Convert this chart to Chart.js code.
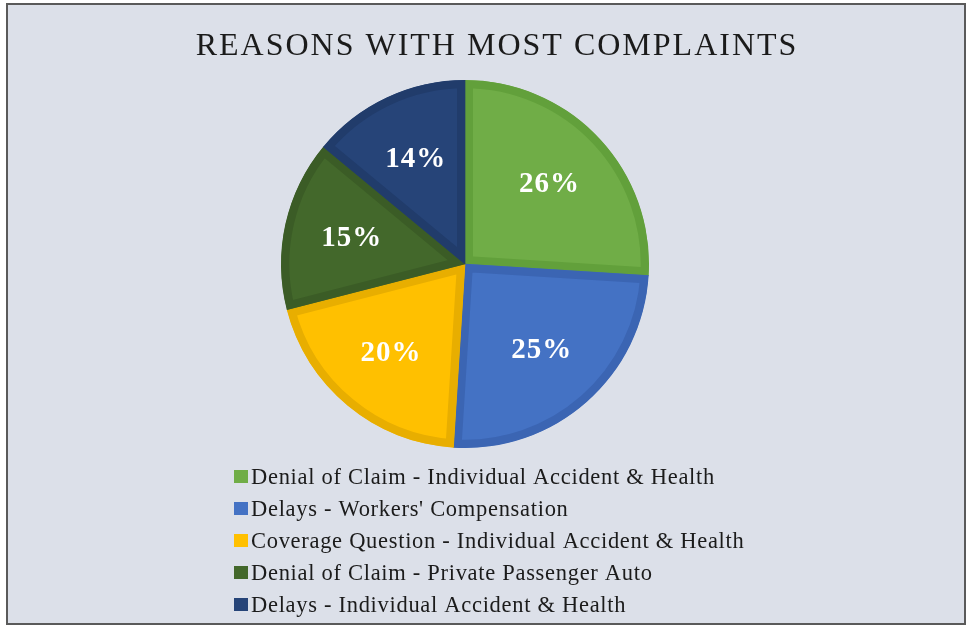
<!DOCTYPE html>
<html>
<head>
<meta charset="utf-8">
<script src="https://cdn.jsdelivr.net/npm/chart.js@4.4.0/dist/chart.umd.min.js"></script>
<style>
html,body{margin:0;padding:0;background:#ffffff;}
#wrap{position:absolute;left:0;top:0;width:967px;height:625px;}
canvas{display:block;}
</style>
</head>
<body>
<div id="wrap"><canvas id="c" width="967" height="625"></canvas></div>
<script>
const chartTitle = 'REASONS WITH MOST COMPLAINTS';
const categories = [
  'Denial of Claim - Individual Accident & Health',
  "Delays - Workers' Compensation",
  'Coverage Question - Individual Accident & Health',
  'Denial of Claim - Private Passenger Auto',
  'Delays - Individual Accident & Health'
];
const shares = [26, 25, 20, 15, 14];
const fillColors = ['#70ad47', '#4472c4', '#ffc000', '#43682b', '#264478'];
const edgeColors = ['#62a03b', '#3b65b3', '#e8ae00', '#3b5c26', '#213c6b'];

const framePlugin = {
  id: 'frame',
  beforeDraw(chart) {
    const ctx = chart.ctx;
    ctx.save();
    ctx.fillStyle = '#ffffff';
    ctx.fillRect(0, 0, chart.width, chart.height);
    ctx.fillStyle = '#dce0e9';
    ctx.fillRect(8, 5, 956, 618);
    ctx.strokeStyle = '#5a5a5a';
    ctx.lineWidth = 2;
    ctx.strokeRect(7, 4, 958, 620);
    // title
    ctx.fillStyle = '#1b1b1b';
    ctx.font = '32px "Liberation Serif", "Times New Roman", serif';
    ctx.letterSpacing = '2px';
    ctx.textAlign = 'center';
    ctx.textBaseline = 'alphabetic';
    ctx.fillText(chartTitle, 497, 55);
    ctx.restore();
  }
};

const labelPlugin = {
  id: 'sliceLabels',
  afterDatasetsDraw(chart) {
    const ctx = chart.ctx;
    const meta = chart.getDatasetMeta(0);
    const data = chart.data.datasets[0].data;
    ctx.save();
    ctx.fillStyle = '#ffffff';
    ctx.font = 'bold 29px "Liberation Serif", "Times New Roman", serif';
    ctx.letterSpacing = '1px';
    ctx.textAlign = 'center';
    ctx.textBaseline = 'middle';
    meta.data.forEach((arc, i) => {
      const p = arc.getProps(['x', 'y', 'startAngle', 'endAngle', 'outerRadius'], true);
      const a = (p.startAngle + p.endAngle) / 2;
      const r = p.outerRadius * 0.63;
      ctx.fillText(data[i] + '%', p.x + Math.cos(a) * r, p.y + Math.sin(a) * r);
    });
    ctx.restore();
  }
};

const legendPlugin = {
  id: 'listLegend',
  afterDraw(chart) {
    const ctx = chart.ctx;
    const ds = chart.data.datasets[0];
    ctx.save();
    ctx.font = '22.5px "Liberation Serif", "Times New Roman", serif';
    ctx.letterSpacing = '0.7px';
    ctx.textAlign = 'left';
    ctx.textBaseline = 'middle';
    chart.data.labels.forEach((lab, i) => {
      const y = 477 + i * 32;
      ctx.fillStyle = ds.backgroundColor[i];
      ctx.fillRect(234, y - 7, 14, 13);
      ctx.fillStyle = '#1b1b1b';
      ctx.fillText(lab, 251, y + 1);
    });
    ctx.restore();
  }
};

new Chart(document.getElementById('c'), {
  type: 'pie',
  data: {
    labels: categories,
    datasets: [{
      data: shares,
      backgroundColor: fillColors,
      borderColor: edgeColors,
      borderWidth: 8,
      borderAlign: 'inner',
      borderJoinStyle: 'miter',
      offset: 0
    }]
  },
  options: {
    responsive: false,
    animation: false,
    events: [],
    layout: { padding: { left: 281, top: 80, right: 318, bottom: 177 } },
    plugins: {
      legend: { display: false },
      title: { display: false },
      tooltip: { enabled: false }
    }
  },
  plugins: [framePlugin, labelPlugin, legendPlugin]
});
</script>
</body>
</html>
